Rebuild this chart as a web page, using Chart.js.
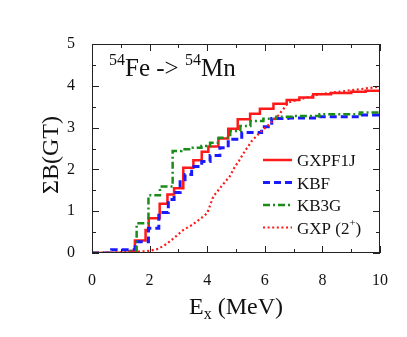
<!DOCTYPE html>
<html>
<head>
<meta charset="utf-8">
<script src="https://cdn.jsdelivr.net/npm/chart.js@4/dist/chart.umd.min.js"></script>
<style>
  html, body { margin: 0; padding: 0; background: #fff; }
  #wrap { width: 407px; height: 337px; }
  .probe { position: absolute; left: 0; top: 340px; font-family: "Liberation Serif"; font-size: 16px; }
</style>
</head>
<body>
<div class="probe">ΣB(GT) Ex MeV GXPF1J KBF KB3G 54Fe Mn 0123456789</div>
<div id="wrap"><canvas id="gtChart"></canvas></div>
<script>
// Datos (Ex en MeV, suma acumulada de B(GT))
const gxpf1jX = [0, 1.30, 1.49, 1.86, 1.97, 2.35, 2.62, 2.85, 3.17, 3.52, 3.81, 4.04, 4.39, 4.73, 5.06, 5.49, 5.83, 6.30, 6.76, 7.20, 7.68, 8.30, 9.00, 9.50, 10];
const gxpf1jY = [0, 0.05, 0.30, 0.55, 0.83, 1.18, 1.40, 1.55, 2.04, 2.22, 2.42, 2.55, 2.74, 2.97, 3.20, 3.33, 3.45, 3.57, 3.66, 3.72, 3.80, 3.83, 3.86, 3.88, 3.88];

const kbfX = [0, 0.68, 1.50, 1.96, 2.32, 2.65, 2.85, 3.06, 3.23, 3.46, 3.81, 4.10, 4.44, 4.73, 5.20, 5.89, 6.24, 6.80, 7.90, 9.30, 10];
const kbfY = [0, 0.08, 0.27, 0.59, 0.97, 1.28, 1.45, 1.75, 1.88, 2.07, 2.19, 2.33, 2.52, 2.72, 2.88, 3.02, 3.22, 3.23, 3.26, 3.30, 3.32];

const kb3gX = [0, 1.30, 1.55, 1.96, 2.36, 2.80, 3.10, 3.50, 3.80, 4.10, 4.40, 4.80, 5.15, 5.50, 5.95, 6.40, 7.00, 7.90, 9.30, 10];
const kb3gY = [0, 0.05, 0.71, 1.38, 1.59, 2.44, 2.48, 2.52, 2.56, 2.64, 2.76, 2.92, 3.04, 3.16, 3.21, 3.26, 3.28, 3.32, 3.36, 3.38];

const gxp2X = [0, 1.2, 1.8, 2.0, 2.3, 2.6, 2.88, 3.17, 3.47, 3.82, 4.0, 4.21, 4.5, 4.8, 4.95, 5.1, 5.3, 5.55, 5.83, 6.12, 6.41, 6.64, 6.82, 7.22, 7.92, 8.84, 9.77, 10];
const gxp2Y = [0, 0.02, 0.04, 0.05, 0.10, 0.22, 0.38, 0.55, 0.67, 0.85, 0.95, 1.35, 1.60, 1.85, 2.05, 2.20, 2.43, 2.68, 2.88, 3.06, 3.24, 3.44, 3.60, 3.68, 3.80, 3.88, 3.96, 3.98];

const xTicks = [0, 2, 4, 6, 8, 10];
const yTicks = [0, 1, 2, 3, 4, 5];

const serif = '"Liberation Serif", serif';

function pts(xs, ys) {
    return xs.map((x, i) => ({ x: x, y: ys[i] }));
}

const data = {
    datasets: [
        {
            label: 'GXP',
            data: pts(gxp2X, gxp2Y),
            borderColor: '#ff1a1a',
            borderWidth: 2.2,
            borderDash: [2, 2.6],
            stepped: false,
            sup: '+'
        },
        {
            label: 'KB3G',
            data: pts(kb3gX, kb3gY),
            borderColor: '#1a8c1a',
            borderWidth: 2.5,
            borderDash: [7, 3, 2, 3],
            stepped: 'before'
        },
        {
            label: 'KBF',
            data: pts(kbfX, kbfY),
            borderColor: '#1a1aff',
            borderWidth: 3,
            borderDash: [7, 4],
            stepped: 'before'
        },
        {
            label: 'GXPF1J',
            data: pts(gxpf1jX, gxpf1jY),
            borderColor: '#ff1a1a',
            borderWidth: 2.5,
            stepped: 'before'
        }
    ]
};

// Marco, marcas hacia dentro, títulos y leyenda
const framePlugin = {
    id: 'frame',
    afterDraw(chart) {
        const ctx = chart.ctx;
        const a = chart.chartArea;
        const xs = chart.scales.x, ys = chart.scales.y;
        ctx.save();
        ctx.strokeStyle = '#222';
        ctx.lineWidth = 1;
        ctx.setLineDash([]);
        ctx.strokeRect(a.left + 0.5, a.top + 0.5, a.right - a.left - 1, a.bottom - a.top - 1);

        ctx.beginPath();
        for (let v = 0; v <= 10; v++) {
            const px = Math.round(xs.getPixelForValue(v)) + 0.5;
            const len = v % 2 === 0 ? 7 : 4;
            ctx.moveTo(px, a.bottom); ctx.lineTo(px, a.bottom - len);
            ctx.moveTo(px, a.top); ctx.lineTo(px, a.top + len);
        }
        for (let v = 0; v <= 5; v += 0.5) {
            const py = Math.round(ys.getPixelForValue(v)) + 0.5;
            const len = v % 1 === 0 ? 7 : 4;
            ctx.moveTo(a.left, py); ctx.lineTo(a.left + len, py);
            ctx.moveTo(a.right, py); ctx.lineTo(a.right - len, py);
        }
        ctx.stroke();

        ctx.fillStyle = '#111';
        ctx.textBaseline = 'alphabetic';

        // título del eje x
        const e = 'E', rest = ' (MeV)';
        ctx.font = '24px ' + serif;
        const wE = ctx.measureText(e).width;
        const wR = ctx.measureText(rest).width;
        ctx.font = '16px ' + serif;
        const wX = ctx.measureText('x').width;
        let x0 = (a.left + a.right) / 2 - (wE + wX + wR) / 2;
        const yb = 314;
        ctx.font = '24px ' + serif;
        ctx.fillText(e, x0, yb);
        ctx.font = '16px ' + serif;
        ctx.fillText('x', x0 + wE, yb + 5);
        ctx.font = '24px ' + serif;
        ctx.fillText(rest, x0 + wE + wX, yb);

        // título del eje y
        ctx.save();
        ctx.translate(58, 155);
        ctx.rotate(-Math.PI / 2);
        ctx.textAlign = 'center';
        ctx.font = '24px ' + serif;
        ctx.fillText('\u03A3B(GT)', 0, 0);
        ctx.restore();

        // anotación 54Fe -> 54Mn
        let ax = 109;
        const ab = 76;
        const parts = [['54', true], ['Fe -> ', false], ['54', true], ['Mn', false]];
        parts.forEach(p => {
            ctx.font = (p[1] ? '16px ' : '25px ') + serif;
            ctx.fillText(p[0], ax, p[1] ? ab - 11 : ab);
            ax += ctx.measureText(p[0]).width;
        });

        // leyenda
        const rows = [3, 2, 1, 0];
        rows.forEach((di, i) => {
            const ds = chart.data.datasets[di];
            const y = 160 + i * 22.5;
            ctx.beginPath();
            ctx.strokeStyle = ds.borderColor;
            ctx.lineWidth = ds.borderWidth;
            ctx.setLineDash(ds.borderDash || []);
            ctx.moveTo(263, y);
            ctx.lineTo(292, y);
            ctx.stroke();
            ctx.setLineDash([]);
            ctx.fillStyle = '#111';
            ctx.font = '17px ' + serif;
            let tx = 297;
            if (ds.sup) {
                const t1 = ds.label + ' (2';
                ctx.fillText(t1, tx, y + 6);
                tx += ctx.measureText(t1).width;
                ctx.font = '11px ' + serif;
                ctx.fillText(ds.sup, tx, y - 2);
                tx += ctx.measureText(ds.sup).width;
                ctx.font = '17px ' + serif;
                ctx.fillText(')', tx, y + 6);
            } else {
                ctx.fillText(ds.label, tx, y + 6);
            }
        });
        ctx.restore();
    }
};

const config = {
    type: 'line',
    data: data,
    options: {
        responsive: true,
        maintainAspectRatio: false,
        animation: false,
        layout: { padding: { top: 44, right: 27, left: 0, bottom: 0 } },
        elements: { point: { radius: 0 }, line: { tension: 0, fill: false } },
        plugins: { legend: { display: false }, tooltip: { enabled: false } },
        scales: {
            x: {
                type: 'linear',
                min: 0,
                max: 10,
                afterFit(scale) { scale.height = 84; },
                afterBuildTicks(scale) { scale.ticks = xTicks.map(v => ({ value: v })); },
                grid: { display: false },
                border: { display: false },
                ticks: { padding: 10, color: '#111', font: { family: serif, size: 16 }, maxRotation: 0 }
            },
            y: {
                type: 'linear',
                min: 0,
                max: 5,
                afterFit(scale) { scale.width = 92; },
                afterBuildTicks(scale) { scale.ticks = yTicks.map(v => ({ value: v })); },
                grid: { display: false },
                border: { display: false },
                ticks: { padding: 9, color: '#111', font: { family: serif, size: 16 } }
            }
        }
    },
    plugins: [framePlugin]
};

const gtChart = new Chart(document.getElementById('gtChart'), config);

// volver a dibujar cuando la fuente serif ya está cargada
const redraw = () => gtChart.update('none');
if (document.fonts) {
    document.fonts.ready.then(redraw);
}
window.addEventListener('load', () => { redraw(); setTimeout(redraw, 30); });
</script>
</body>
</html>
